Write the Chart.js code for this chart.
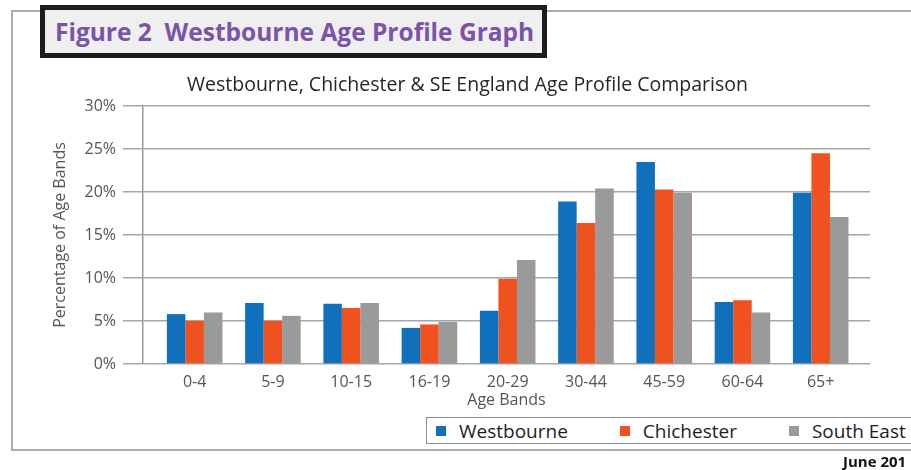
<!DOCTYPE html>
<html>
<head>
<meta charset="utf-8">
<script src="https://cdn.jsdelivr.net/npm/chart.js@4.4.0/dist/chart.umd.min.js"></script>
<style>
  html, body { margin: 0; padding: 0; background: #fff; width: 911px; height: 470px; overflow: hidden; font-family: 'Open Sans', sans-serif; }
  #frame { position: absolute; left: 11px; top: 10px; width: 920px; height: 437px; border-left: 2px solid #ababab; border-top: 2px solid #ababab; border-bottom: 2px solid #ababab; }
  #figTitle { position: absolute; left: 40px; top: 5px; width: 497px; height: 43px; border: 5px solid #1c1c1c; background: #efeff0;
    color: #7b53a8; font-weight: 700; font-size: 24.5px; line-height: 44px; white-space: pre; z-index: 2; }
  #figTitle span { margin-left: 10px; }
  #chartBox { position: absolute; left: 0; top: 0; width: 911px; height: 470px; }
  #legend { position: absolute; left: 426px; top: 417px; width: 520px; height: 27px; border: 1.5px solid #8c8c8c; background: #fff;
    display: flex; align-items: center; padding-left: 9px; box-sizing: border-box; z-index: 2; }
  .item { display: flex; align-items: center; flex-shrink: 0; white-space: nowrap; margin-right: 52px; font-size: 19px; color: #1e1e1e; }
  .swatch { width: 10px; height: 10px; margin-right: 13px; }
  #june { position: absolute; left: 843px; top: 451px; font-weight: 700; font-size: 15px; color: #111; white-space: nowrap; }
</style>
</head>
<body>
<div id="frame"></div>
<div id="figTitle"><span>Figure 2  Westbourne Age Profile Graph</span></div>
<div id="chartBox"><canvas id="ageChart"></canvas></div>
<div id="legend"></div>
<div id="june">June 201</div>
<script>
const ageBands = ['0-4', '5-9', '10-15', '16-19', '20-29', '30-44', '45-59', '60-64', '65+'];
const westbourne = [5.8, 7.1, 7.0, 4.2, 6.2, 18.9, 23.5, 7.2, 19.9];
const chichester = [5.0, 5.0, 6.5, 4.6, 9.9, 16.4, 20.3, 7.4, 24.5];
const southEast = [6.0, 5.6, 7.1, 4.9, 12.1, 20.4, 19.9, 6.0, 17.1];
const seriesNames = ['Westbourne', 'Chichester', 'South East'];
const seriesColors = ['#1170bb', '#f0521f', '#9a9a9a'];
const yTicks = [0, 5, 10, 15, 20, 25, 30];

const seriesValues = [westbourne, chichester, southEast];

// bars sit on index positions so the axis can start a little before the first band
const datasets = seriesNames.map((name, s) => ({
    label: name,
    data: ageBands.map((band, i) => ({ x: i, y: seriesValues[s][i] })),
    backgroundColor: seriesColors[s],
    borderWidth: 0,
    categoryPercentage: 0.71,
    barPercentage: 1
}));

const tickFont = { family: 'Open Sans', size: 16 };

new Chart(document.getElementById('ageChart'), {
    type: 'bar',
    data: { datasets: datasets },
    options: {
        responsive: true,
        maintainAspectRatio: false,
        animation: false,
        layout: { padding: { top: 73.3, left: 65, right: 41, bottom: 60 } },
        plugins: {
            legend: { display: false },
            tooltip: { enabled: false },
            title: {
                display: true,
                text: 'Westbourne, Chichester & SE England Age Profile Comparison',
                color: '#262626',
                font: { family: 'Open Sans', size: 19.5, weight: 'normal' },
                padding: { top: 0, bottom: 9.3 }
            }
        },
        scales: {
            x: {
                type: 'linear',
                offset: false,
                min: -0.66,
                max: 8.63,
                grid: { display: false, drawTicks: false, offset: false },
                border: { display: false },
                ticks: {
                    stepSize: 1,
                    includeBounds: false,
                    autoSkip: false,
                    maxRotation: 0,
                    padding: 9,
                    color: '#555',
                    font: tickFont,
                    callback: (v) => ageBands[v] ?? ''
                },
                title: { display: true, text: 'Age Bands', color: '#555', font: tickFont, padding: { top: 0, bottom: 0 } },
                afterFit: (scale) => { scale.height = 46; }
            },
            y: {
                min: 0,
                max: 30,
                grid: { color: '#a6a6a6', lineWidth: 1.5, tickLength: 20 },
                border: { display: true, color: '#9a9a9a', width: 1.5 },
                ticks: { padding: 7, color: '#555', font: tickFont, callback: (v) => v + '%' },
                afterBuildTicks: (scale) => { scale.ticks = yTicks.map(v => ({ value: v })); },
                title: { display: true, text: 'Percentage of Age Bands', color: '#555', font: tickFont, padding: { top: -14.6, bottom: 0 } },
                afterFit: (scale) => { scale.width = 78; }
            }
        }
    }
});

// legend drawn as html, built from the series arrays
const legend = document.getElementById('legend');
seriesNames.forEach((name, s) => {
    const item = document.createElement('div');
    item.className = 'item';
    item.innerHTML = '<span class="swatch" style="background:' + seriesColors[s] + '"></span>' + name;
    legend.appendChild(item);
});
</script>
</body>
</html>
